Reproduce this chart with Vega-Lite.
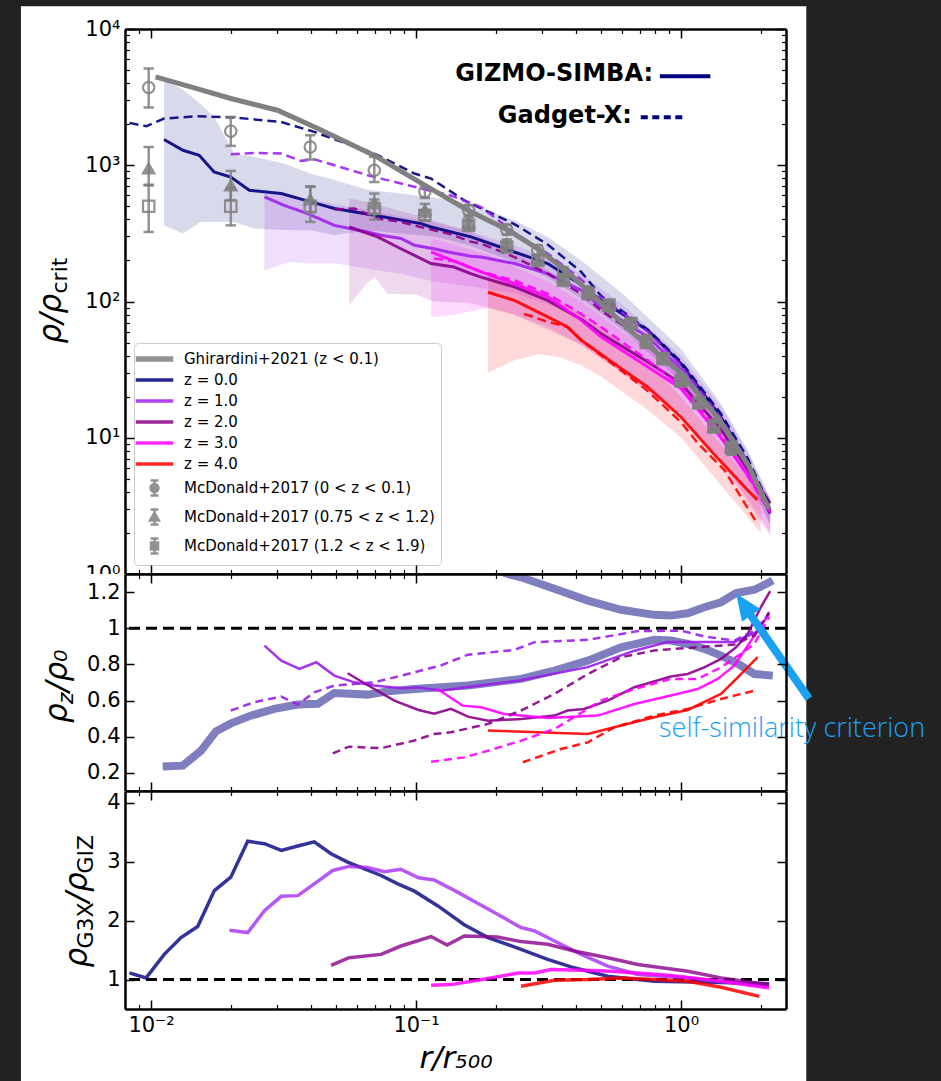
{
"$schema": "https://vega.github.io/schema/vega-lite/v6.json",
"background": "#222222",
"padding": {"left": 20, "top": 6, "right": 30, "bottom": 0},
"spacing": 0,
"bounds": "flush",
"config": {
  "font": "DejaVu Sans",
  "view": {"stroke": null},
  "axis": {"zindex": 1, "grid": false, "domainColor": "#000000", "domainWidth": 2.5, "tickColor": "#000000", "tickWidth": 1.5, "labelFontSize": 21, "labelColor": "#000000", "labelFont": "DejaVu Sans", "titleColor": "#000000", "titleFontWeight": "normal", "titleFont": "DejaVu Sans", "labelPadding": 14}
},
"resolve": {"scale": {"x": "independent", "y": "independent", "color": "independent", "shape": "independent", "fill": "independent"}, "axis": {"x": "independent", "y": "independent"}, "legend": {"color": "independent"}},
"datasets": {
  "g21": [
    {"s":"Ghirardini+2021 (z < 0.1)","x":0.0104,"y":4450},{"s":"Ghirardini+2021 (z < 0.1)","x":0.015,"y":3630},{"s":"Ghirardini+2021 (z < 0.1)","x":0.02,"y":3090},{"s":"Ghirardini+2021 (z < 0.1)","x":0.03,"y":2535},{"s":"Ghirardini+2021 (z < 0.1)","x":0.0426,"y":1858},{"s":"Ghirardini+2021 (z < 0.1)","x":0.0696,"y":1180},{"s":"Ghirardini+2021 (z < 0.1)","x":0.1106,"y":693},{"s":"Ghirardini+2021 (z < 0.1)","x":0.157,"y":468},{"s":"Ghirardini+2021 (z < 0.1)","x":0.222,"y":335},{"s":"Ghirardini+2021 (z < 0.1)","x":0.288,"y":244},{"s":"Ghirardini+2021 (z < 0.1)","x":0.373,"y":165},{"s":"Ghirardini+2021 (z < 0.1)","x":0.471,"y":108},{"s":"Ghirardini+2021 (z < 0.1)","x":0.65,"y":60},{"s":"Ghirardini+2021 (z < 0.1)","x":1.0,"y":30},{"s":"Ghirardini+2021 (z < 0.1)","x":1.4,"y":13.5},{"s":"Ghirardini+2021 (z < 0.1)","x":1.8,"y":6.2},{"s":"Ghirardini+2021 (z < 0.1)","x":2.15,"y":3.0}
  ],
  "top_solid": [
    {"s":"z = 0.0","x":0.0112,"y":1546},{"s":"z = 0.0","x":0.0132,"y":1288},{"s":"z = 0.0","x":0.0152,"y":1183},{"s":"z = 0.0","x":0.0173,"y":893},{"s":"z = 0.0","x":0.02,"y":820},{"s":"z = 0.0","x":0.0235,"y":655},{"s":"z = 0.0","x":0.031,"y":620},{"s":"z = 0.0","x":0.0401,"y":538},{"s":"z = 0.0","x":0.0492,"y":481},{"s":"z = 0.0","x":0.0696,"y":430},{"s":"z = 0.0","x":0.1045,"y":373},{"s":"z = 0.0","x":0.114,"y":352},{"s":"z = 0.0","x":0.161,"y":298},{"s":"z = 0.0","x":0.235,"y":231},{"s":"z = 0.0","x":0.314,"y":190},{"s":"z = 0.0","x":0.42,"y":133},{"s":"z = 0.0","x":0.499,"y":102},{"s":"z = 0.0","x":0.748,"y":61.5},{"s":"z = 0.0","x":1.0,"y":35},{"s":"z = 0.0","x":1.415,"y":14.2},{"s":"z = 0.0","x":1.79,"y":6.45},{"s":"z = 0.0","x":2.17,"y":2.77},
    {"s":"z = 1.0","x":0.0268,"y":585},{"s":"z = 1.0","x":0.0318,"y":508},{"s":"z = 1.0","x":0.039,"y":442},{"s":"z = 1.0","x":0.0492,"y":362},{"s":"z = 1.0","x":0.0657,"y":324},{"s":"z = 1.0","x":0.0738,"y":306},{"s":"z = 1.0","x":0.0877,"y":290},{"s":"z = 1.0","x":0.0986,"y":259},{"s":"z = 1.0","x":0.117,"y":244},{"s":"z = 1.0","x":0.132,"y":231},{"s":"z = 1.0","x":0.161,"y":215},{"s":"z = 1.0","x":0.176,"y":212},{"s":"z = 1.0","x":0.235,"y":190},{"s":"z = 1.0","x":0.314,"y":160},{"s":"z = 1.0","x":0.42,"y":121},{"s":"z = 1.0","x":0.499,"y":91},{"s":"z = 1.0","x":0.75,"y":55},{"s":"z = 1.0","x":1.0,"y":32},{"s":"z = 1.0","x":1.415,"y":13},{"s":"z = 1.0","x":1.79,"y":6.3},{"s":"z = 1.0","x":2.17,"y":2.9},
    {"s":"z = 2.0","x":0.056,"y":352},{"s":"z = 2.0","x":0.0716,"y":298},{"s":"z = 2.0","x":0.0877,"y":244},{"s":"z = 2.0","x":0.114,"y":190},{"s":"z = 2.0","x":0.139,"y":179},{"s":"z = 2.0","x":0.161,"y":160},{"s":"z = 2.0","x":0.176,"y":151},{"s":"z = 2.0","x":0.235,"y":128},{"s":"z = 2.0","x":0.314,"y":102},{"s":"z = 2.0","x":0.42,"y":74},{"s":"z = 2.0","x":0.5,"y":58},{"s":"z = 2.0","x":0.75,"y":36},{"s":"z = 2.0","x":1.0,"y":25},{"s":"z = 2.0","x":1.415,"y":11.5},{"s":"z = 2.0","x":1.79,"y":5.8},{"s":"z = 2.0","x":2.17,"y":3.3},
    {"s":"z = 3.0","x":0.114,"y":231},{"s":"z = 3.0","x":0.152,"y":185},{"s":"z = 3.0","x":0.192,"y":155},{"s":"z = 3.0","x":0.235,"y":135},{"s":"z = 3.0","x":0.314,"y":108},{"s":"z = 3.0","x":0.42,"y":73},{"s":"z = 3.0","x":0.499,"y":55},{"s":"z = 3.0","x":0.75,"y":33},{"s":"z = 3.0","x":1.0,"y":23},{"s":"z = 3.0","x":1.415,"y":10},{"s":"z = 3.0","x":1.79,"y":5.3},{"s":"z = 3.0","x":2.17,"y":3.0},
    {"s":"z = 4.0","x":0.187,"y":117},{"s":"z = 4.0","x":0.235,"y":102},{"s":"z = 4.0","x":0.314,"y":77},{"s":"z = 4.0","x":0.373,"y":65},{"s":"z = 4.0","x":0.42,"y":52},{"s":"z = 4.0","x":0.499,"y":41},{"s":"z = 4.0","x":0.56,"y":35},{"s":"z = 4.0","x":0.748,"y":23.6},{"s":"z = 4.0","x":1.0,"y":14.2},{"s":"z = 4.0","x":1.33,"y":7.6},{"s":"z = 4.0","x":1.79,"y":4.1},{"s":"z = 4.0","x":1.94,"y":3.5}
  ],
  "top_dash": [
    {"s":"z = 0.0","x":0.0083,"y":2046},{"s":"z = 0.0","x":0.0096,"y":1933},{"s":"z = 0.0","x":0.0112,"y":2203},{"s":"z = 0.0","x":0.015,"y":2291},{"s":"z = 0.0","x":0.0206,"y":2240},{"s":"z = 0.0","x":0.031,"y":2078},{"s":"z = 0.0","x":0.0413,"y":1758},{"s":"z = 0.0","x":0.0696,"y":1219},{"s":"z = 0.0","x":0.0986,"y":869},{"s":"z = 0.0","x":0.114,"y":798},{"s":"z = 0.0","x":0.152,"y":553},{"s":"z = 0.0","x":0.235,"y":370},{"s":"z = 0.0","x":0.314,"y":262},{"s":"z = 0.0","x":0.42,"y":165},{"s":"z = 0.0","x":0.499,"y":110},{"s":"z = 0.0","x":0.75,"y":62},{"s":"z = 0.0","x":1.0,"y":36},{"s":"z = 0.0","x":1.415,"y":15},{"s":"z = 0.0","x":1.79,"y":7},{"s":"z = 0.0","x":2.17,"y":3.1},
    {"s":"z = 1.0","x":0.02,"y":1205},{"s":"z = 1.0","x":0.0245,"y":1230},{"s":"z = 1.0","x":0.031,"y":1219},{"s":"z = 1.0","x":0.0368,"y":1077},{"s":"z = 1.0","x":0.0413,"y":1105},{"s":"z = 1.0","x":0.0492,"y":1000},{"s":"z = 1.0","x":0.0657,"y":845},{"s":"z = 1.0","x":0.0738,"y":798},{"s":"z = 1.0","x":0.0877,"y":735},{"s":"z = 1.0","x":0.117,"y":640},{"s":"z = 1.0","x":0.132,"y":610},{"s":"z = 1.0","x":0.176,"y":494},{"s":"z = 1.0","x":0.235,"y":320},{"s":"z = 1.0","x":0.314,"y":225},{"s":"z = 1.0","x":0.42,"y":145},{"s":"z = 1.0","x":0.485,"y":112},{"s":"z = 1.0","x":0.75,"y":60},{"s":"z = 1.0","x":1.0,"y":34},{"s":"z = 1.0","x":1.415,"y":14},{"s":"z = 1.0","x":1.79,"y":6.6},{"s":"z = 1.0","x":2.17,"y":3.0},
    {"s":"z = 2.0","x":0.0492,"y":473},{"s":"z = 2.0","x":0.0585,"y":481},{"s":"z = 2.0","x":0.0716,"y":406},{"s":"z = 2.0","x":0.0877,"y":384},{"s":"z = 2.0","x":0.0986,"y":362},{"s":"z = 2.0","x":0.117,"y":333},{"s":"z = 2.0","x":0.132,"y":316},{"s":"z = 2.0","x":0.161,"y":275},{"s":"z = 2.0","x":0.176,"y":266},{"s":"z = 2.0","x":0.235,"y":212},{"s":"z = 2.0","x":0.314,"y":160},{"s":"z = 2.0","x":0.42,"y":114},{"s":"z = 2.0","x":0.499,"y":86},{"s":"z = 2.0","x":0.75,"y":50},{"s":"z = 2.0","x":1.0,"y":30},{"s":"z = 2.0","x":1.415,"y":13},{"s":"z = 2.0","x":1.79,"y":6.2},{"s":"z = 2.0","x":2.17,"y":3.0},
    {"s":"z = 3.0","x":0.117,"y":207},{"s":"z = 3.0","x":0.143,"y":196},{"s":"z = 3.0","x":0.176,"y":165},{"s":"z = 3.0","x":0.235,"y":143},{"s":"z = 3.0","x":0.314,"y":114},{"s":"z = 3.0","x":0.42,"y":81},{"s":"z = 3.0","x":0.499,"y":65},{"s":"z = 3.0","x":0.75,"y":37},{"s":"z = 3.0","x":1.0,"y":24},{"s":"z = 3.0","x":1.415,"y":10.5},{"s":"z = 3.0","x":1.79,"y":5.2},{"s":"z = 3.0","x":2.17,"y":2.8},
    {"s":"z = 4.0","x":0.256,"y":81},{"s":"z = 4.0","x":0.314,"y":71},{"s":"z = 4.0","x":0.373,"y":65},{"s":"z = 4.0","x":0.42,"y":52},{"s":"z = 4.0","x":0.56,"y":34},{"s":"z = 4.0","x":0.75,"y":22},{"s":"z = 4.0","x":1.0,"y":13},{"s":"z = 4.0","x":1.16,"y":9.06},{"s":"z = 4.0","x":1.46,"y":5.77},{"s":"z = 4.0","x":1.94,"y":2.34}
  ],
  "top_band": [
    {"s":"z = 0.0","x":0.0112,"lo":362,"hi":4210},{"s":"z = 0.0","x":0.0132,"lo":316,"hi":3600},{"s":"z = 0.0","x":0.0154,"lo":384,"hi":2800},{"s":"z = 0.0","x":0.0173,"lo":384,"hi":2265},{"s":"z = 0.0","x":0.0206,"lo":384,"hi":1219},{"s":"z = 0.0","x":0.0245,"lo":343,"hi":1153},{"s":"z = 0.0","x":0.0318,"lo":335,"hi":1029},{"s":"z = 0.0","x":0.04,"lo":333,"hi":869},{"s":"z = 0.0","x":0.0492,"lo":306,"hi":780},{"s":"z = 0.0","x":0.0657,"lo":333,"hi":660},{"s":"z = 0.0","x":0.0877,"lo":316,"hi":620},{"s":"z = 0.0","x":0.117,"lo":300,"hi":580},{"s":"z = 0.0","x":0.157,"lo":260,"hi":530},{"s":"z = 0.0","x":0.235,"lo":195,"hi":394},{"s":"z = 0.0","x":0.314,"lo":150,"hi":298},{"s":"z = 0.0","x":0.42,"lo":105,"hi":200},{"s":"z = 0.0","x":0.6,"lo":62,"hi":115},{"s":"z = 0.0","x":1.0,"lo":26,"hi":45},{"s":"z = 0.0","x":1.41,"lo":11,"hi":18},{"s":"z = 0.0","x":1.79,"lo":5.3,"hi":8},{"s":"z = 0.0","x":2.17,"lo":2.3,"hi":3.6},
    {"s":"z = 1.0","x":0.0268,"lo":169,"hi":640},{"s":"z = 1.0","x":0.033,"lo":195,"hi":600},{"s":"z = 1.0","x":0.04,"lo":190,"hi":560},{"s":"z = 1.0","x":0.05,"lo":190,"hi":520},{"s":"z = 1.0","x":0.07,"lo":170,"hi":460},{"s":"z = 1.0","x":0.0877,"lo":160,"hi":420},{"s":"z = 1.0","x":0.117,"lo":140,"hi":380},{"s":"z = 1.0","x":0.157,"lo":130,"hi":330},{"s":"z = 1.0","x":0.235,"lo":115,"hi":260},{"s":"z = 1.0","x":0.314,"lo":95,"hi":210},{"s":"z = 1.0","x":0.42,"lo":75,"hi":160},{"s":"z = 1.0","x":0.6,"lo":48,"hi":95},{"s":"z = 1.0","x":1.0,"lo":22,"hi":40},{"s":"z = 1.0","x":1.41,"lo":10,"hi":17},{"s":"z = 1.0","x":1.79,"lo":4.8,"hi":7.8},{"s":"z = 1.0","x":2.17,"lo":2.3,"hi":3.5},
    {"s":"z = 2.0","x":0.056,"lo":94,"hi":570},{"s":"z = 2.0","x":0.065,"lo":135,"hi":540},{"s":"z = 2.0","x":0.07,"lo":151,"hi":520},{"s":"z = 2.0","x":0.078,"lo":114,"hi":490},{"s":"z = 2.0","x":0.1,"lo":112,"hi":430},{"s":"z = 2.0","x":0.117,"lo":100,"hi":390},{"s":"z = 2.0","x":0.157,"lo":98,"hi":330},{"s":"z = 2.0","x":0.235,"lo":80,"hi":230},{"s":"z = 2.0","x":0.314,"lo":62,"hi":170},{"s":"z = 2.0","x":0.42,"lo":48,"hi":115},{"s":"z = 2.0","x":0.6,"lo":30,"hi":70},{"s":"z = 2.0","x":1.0,"lo":15,"hi":32},{"s":"z = 2.0","x":1.41,"lo":7,"hi":13},{"s":"z = 2.0","x":1.79,"lo":3.5,"hi":6.5},{"s":"z = 2.0","x":2.17,"lo":2.0,"hi":3.6},
    {"s":"z = 3.0","x":0.114,"lo":77,"hi":290},{"s":"z = 3.0","x":0.14,"lo":80,"hi":260},{"s":"z = 3.0","x":0.187,"lo":90,"hi":220},{"s":"z = 3.0","x":0.235,"lo":80,"hi":180},{"s":"z = 3.0","x":0.314,"lo":65,"hi":140},{"s":"z = 3.0","x":0.42,"lo":48,"hi":100},{"s":"z = 3.0","x":0.6,"lo":30,"hi":60},{"s":"z = 3.0","x":1.0,"lo":14,"hi":30},{"s":"z = 3.0","x":1.41,"lo":6.5,"hi":12.5},{"s":"z = 3.0","x":1.79,"lo":3.3,"hi":6.5},{"s":"z = 3.0","x":2.17,"lo":1.9,"hi":3.4},
    {"s":"z = 4.0","x":0.187,"lo":30,"hi":165},{"s":"z = 4.0","x":0.235,"lo":37,"hi":140},{"s":"z = 4.0","x":0.29,"lo":41,"hi":120},{"s":"z = 4.0","x":0.35,"lo":39,"hi":100},{"s":"z = 4.0","x":0.42,"lo":34,"hi":80},{"s":"z = 4.0","x":0.5,"lo":28,"hi":65},{"s":"z = 4.0","x":0.75,"lo":16,"hi":35},{"s":"z = 4.0","x":1.0,"lo":10,"hi":20},{"s":"z = 4.0","x":1.41,"lo":4.5,"hi":9},{"s":"z = 4.0","x":1.79,"lo":2.6,"hi":5},{"s":"z = 4.0","x":2.0,"lo":2.0,"hi":4.0}
  ],
  "mcd": [
    {"g":"c","x":0.0098,"y":3717,"lo":2655,"hi":5130},{"g":"c","x":0.02,"y":1778,"lo":1387,"hi":2265},{"g":"c","x":0.0399,"y":1361,"lo":1101,"hi":1660},{"g":"c","x":0.0696,"y":918,"lo":753,"hi":1151},{"g":"c","x":0.108,"y":640,"lo":575,"hi":700},{"g":"c","x":0.158,"y":468,"lo":430,"hi":510},{"g":"c","x":0.22,"y":337,"lo":310,"hi":365},{"g":"c","x":0.288,"y":238,"lo":220,"hi":258},{"g":"c","x":0.36,"y":165,"lo":153,"hi":178},{"g":"c","x":0.446,"y":118,"lo":110,"hi":127},{"g":"c","x":0.535,"y":92,"lo":86,"hi":99},{"g":"c","x":0.647,"y":68,"lo":63,"hi":73},{"g":"c","x":0.74,"y":52,"lo":48,"hi":56},{"g":"c","x":0.855,"y":38,"lo":35,"hi":41},{"g":"c","x":1.0,"y":27,"lo":25,"hi":29},{"g":"c","x":1.17,"y":18,"lo":16.6,"hi":19.4},{"g":"c","x":1.33,"y":12.5,"lo":11.5,"hi":13.5},{"g":"c","x":1.55,"y":8.2,"lo":7.5,"hi":8.9},
    {"g":"t","x":0.0098,"y":946,"lo":711,"hi":1361},{"g":"t","x":0.02,"y":711,"lo":555,"hi":909},{"g":"t","x":0.0399,"y":560,"lo":450,"hi":700},{"g":"t","x":0.0696,"y":525,"lo":440,"hi":620},{"g":"t","x":0.108,"y":470,"lo":420,"hi":520},{"g":"t","x":0.158,"y":380,"lo":345,"hi":415},{"g":"t","x":0.22,"y":265,"lo":245,"hi":285},{"g":"t","x":0.288,"y":205,"lo":190,"hi":220},{"g":"t","x":0.36,"y":148,"lo":137,"hi":159},{"g":"t","x":0.446,"y":116,"lo":108,"hi":124},{"g":"t","x":0.535,"y":94,"lo":87,"hi":101},{"g":"t","x":0.647,"y":69,"lo":64,"hi":74},{"g":"t","x":0.74,"y":52,"lo":48,"hi":56},{"g":"t","x":0.855,"y":38,"lo":35,"hi":41},{"g":"t","x":1.0,"y":27,"lo":25,"hi":29},{"g":"t","x":1.17,"y":18,"lo":16.6,"hi":19.4},{"g":"t","x":1.33,"y":12,"lo":11,"hi":13},{"g":"t","x":1.55,"y":8.5,"lo":7.8,"hi":9.2},
    {"g":"s","x":0.0098,"y":500,"lo":324,"hi":720},{"g":"s","x":0.02,"y":500,"lo":362,"hi":680},{"g":"s","x":0.0399,"y":500,"lo":384,"hi":693},{"g":"s","x":0.0696,"y":481,"lo":400,"hi":560},{"g":"s","x":0.108,"y":430,"lo":395,"hi":465},{"g":"s","x":0.158,"y":362,"lo":335,"hi":390},{"g":"s","x":0.22,"y":251,"lo":232,"hi":270},{"g":"s","x":0.288,"y":200,"lo":185,"hi":215},{"g":"s","x":0.36,"y":143,"lo":133,"hi":153},{"g":"s","x":0.446,"y":114,"lo":106,"hi":122},{"g":"s","x":0.535,"y":94,"lo":87,"hi":101},{"g":"s","x":0.647,"y":69,"lo":64,"hi":74},{"g":"s","x":0.74,"y":50,"lo":46,"hi":54},{"g":"s","x":0.855,"y":38,"lo":35,"hi":41},{"g":"s","x":1.0,"y":26,"lo":24,"hi":28},{"g":"s","x":1.17,"y":18,"lo":16.6,"hi":19.4},{"g":"s","x":1.33,"y":12,"lo":11,"hi":13},{"g":"s","x":1.55,"y":8.5,"lo":7.8,"hi":9.2}
  ],
  "mid_thick": [
    {"k":"A","x":0.01107,"y":0.235},{"k":"A","x":0.01318,"y":0.24},{"k":"A","x":0.01545,"y":0.323},{"k":"A","x":0.01759,"y":0.43},{"k":"A","x":0.02004,"y":0.474},{"k":"A","x":0.02384,"y":0.517},{"k":"A","x":0.0292,"y":0.554},{"k":"A","x":0.0358,"y":0.578},{"k":"A","x":0.0426,"y":0.582},{"k":"A","x":0.0492,"y":0.642},{"k":"A","x":0.0657,"y":0.633},{"k":"A","x":0.0782,"y":0.651},{"k":"A","x":0.0986,"y":0.664},{"k":"A","x":0.157,"y":0.683},{"k":"A","x":0.249,"y":0.72},{"k":"A","x":0.333,"y":0.766},{"k":"A","x":0.445,"y":0.821},{"k":"A","x":0.594,"y":0.895},{"k":"A","x":0.793,"y":0.936},{"k":"A","x":0.916,"y":0.932},{"k":"A","x":1.06,"y":0.913},{"k":"A","x":1.224,"y":0.886},{"k":"A","x":1.415,"y":0.849},{"k":"A","x":1.64,"y":0.803},{"k":"A","x":1.893,"y":0.747},{"k":"A","x":2.22,"y":0.738},
    {"k":"B","x":0.17,"y":1.36},{"k":"B","x":0.222,"y":1.3},{"k":"B","x":0.249,"y":1.282},{"k":"B","x":0.333,"y":1.218},{"k":"B","x":0.445,"y":1.153},{"k":"B","x":0.594,"y":1.102},{"k":"B","x":0.793,"y":1.074},{"k":"B","x":0.916,"y":1.07},{"k":"B","x":1.06,"y":1.083},{"k":"B","x":1.224,"y":1.116},{"k":"B","x":1.415,"y":1.144},{"k":"B","x":1.614,"y":1.194},{"k":"B","x":1.893,"y":1.213},{"k":"B","x":2.22,"y":1.264}
  ],
  "mid_solid": [
    {"s":"z = 1.0","x":0.0268,"y":0.904},{"s":"z = 1.0","x":0.031,"y":0.821},{"s":"z = 1.0","x":0.0363,"y":0.775},{"s":"z = 1.0","x":0.042,"y":0.812},{"s":"z = 1.0","x":0.0492,"y":0.738},{"s":"z = 1.0","x":0.0585,"y":0.701},{"s":"z = 1.0","x":0.0696,"y":0.683},{"s":"z = 1.0","x":0.0877,"y":0.668},{"s":"z = 1.0","x":0.1023,"y":0.673},{"s":"z = 1.0","x":0.124,"y":0.655},{"s":"z = 1.0","x":0.157,"y":0.675},{"s":"z = 1.0","x":0.249,"y":0.712},{"s":"z = 1.0","x":0.445,"y":0.785},{"s":"z = 1.0","x":0.667,"y":0.876},{"s":"z = 1.0","x":0.89,"y":0.924},{"s":"z = 1.0","x":1.224,"y":0.924},{"s":"z = 1.0","x":1.59,"y":0.924},{"s":"z = 1.0","x":1.893,"y":0.974},{"s":"z = 1.0","x":2.05,"y":1.01},
    {"s":"z = 2.0","x":0.0552,"y":0.751},{"s":"z = 2.0","x":0.0696,"y":0.664},{"s":"z = 2.0","x":0.0828,"y":0.6},{"s":"z = 2.0","x":0.1023,"y":0.548},{"s":"z = 2.0","x":0.117,"y":0.528},{"s":"z = 2.0","x":0.1355,"y":0.554},{"s":"z = 2.0","x":0.157,"y":0.511},{"s":"z = 2.0","x":0.187,"y":0.489},{"s":"z = 2.0","x":0.249,"y":0.498},{"s":"z = 2.0","x":0.333,"y":0.517},{"s":"z = 2.0","x":0.373,"y":0.545},{"s":"z = 2.0","x":0.431,"y":0.554},{"s":"z = 2.0","x":0.529,"y":0.6},{"s":"z = 2.0","x":0.667,"y":0.674},{"s":"z = 2.0","x":0.916,"y":0.733},{"s":"z = 2.0","x":1.06,"y":0.747},{"s":"z = 2.0","x":1.224,"y":0.784},{"s":"z = 2.0","x":1.415,"y":0.83},{"s":"z = 2.0","x":1.614,"y":0.895},{"s":"z = 2.0","x":1.786,"y":0.969},{"s":"z = 2.0","x":2.0,"y":1.116},{"s":"z = 2.0","x":2.17,"y":1.205},
    {"s":"z = 3.0","x":0.12,"y":0.665},{"s":"z = 3.0","x":0.15,"y":0.572},{"s":"z = 3.0","x":0.176,"y":0.563},{"s":"z = 3.0","x":0.215,"y":0.526},{"s":"z = 3.0","x":0.314,"y":0.504},{"s":"z = 3.0","x":0.485,"y":0.517},{"s":"z = 3.0","x":0.667,"y":0.581},{"s":"z = 3.0","x":0.916,"y":0.628},{"s":"z = 3.0","x":1.156,"y":0.664},{"s":"z = 3.0","x":1.376,"y":0.72},{"s":"z = 3.0","x":1.59,"y":0.794},{"s":"z = 3.0","x":1.84,"y":0.932},{"s":"z = 3.0","x":2.15,"y":1.08},
    {"s":"z = 4.0","x":0.187,"y":0.434},{"s":"z = 4.0","x":0.288,"y":0.425},{"s":"z = 4.0","x":0.445,"y":0.415},{"s":"z = 4.0","x":0.594,"y":0.462},{"s":"z = 4.0","x":0.793,"y":0.508},{"s":"z = 4.0","x":1.06,"y":0.548},{"s":"z = 4.0","x":1.415,"y":0.637},{"s":"z = 4.0","x":1.64,"y":0.729},{"s":"z = 4.0","x":1.946,"y":0.84}
  ],
  "mid_dash": [
    {"s":"z = 1.0","x":0.02,"y":0.545},{"s":"z = 1.0","x":0.0245,"y":0.591},{"s":"z = 1.0","x":0.031,"y":0.622},{"s":"z = 1.0","x":0.0358,"y":0.578},{"s":"z = 1.0","x":0.0413,"y":0.646},{"s":"z = 1.0","x":0.0492,"y":0.683},{"s":"z = 1.0","x":0.0696,"y":0.701},{"s":"z = 1.0","x":0.093,"y":0.747},{"s":"z = 1.0","x":0.124,"y":0.794},{"s":"z = 1.0","x":0.157,"y":0.854},{"s":"z = 1.0","x":0.235,"y":0.88},{"s":"z = 1.0","x":0.28,"y":0.923},{"s":"z = 1.0","x":0.445,"y":0.936},{"s":"z = 1.0","x":0.687,"y":0.984},{"s":"z = 1.0","x":1.0,"y":0.987},{"s":"z = 1.0","x":1.224,"y":0.954},{"s":"z = 1.0","x":1.59,"y":0.932},{"s":"z = 1.0","x":1.893,"y":0.987},{"s":"z = 1.0","x":2.15,"y":1.08},
    {"s":"z = 2.0","x":0.0485,"y":0.308},{"s":"z = 2.0","x":0.0559,"y":0.345},{"s":"z = 2.0","x":0.0738,"y":0.337},{"s":"z = 2.0","x":0.0986,"y":0.379},{"s":"z = 2.0","x":0.117,"y":0.415},{"s":"z = 2.0","x":0.1355,"y":0.425},{"s":"z = 2.0","x":0.187,"y":0.471},{"s":"z = 2.0","x":0.249,"y":0.545},{"s":"z = 2.0","x":0.333,"y":0.637},{"s":"z = 2.0","x":0.445,"y":0.747},{"s":"z = 2.0","x":0.594,"y":0.84},{"s":"z = 2.0","x":0.793,"y":0.877},{"s":"z = 2.0","x":1.06,"y":0.891},{"s":"z = 2.0","x":1.59,"y":0.91},{"s":"z = 2.0","x":1.893,"y":0.96},{"s":"z = 2.0","x":2.15,"y":1.089},
    {"s":"z = 3.0","x":0.114,"y":0.262},{"s":"z = 3.0","x":0.152,"y":0.286},{"s":"z = 3.0","x":0.187,"y":0.323},{"s":"z = 3.0","x":0.249,"y":0.378},{"s":"z = 3.0","x":0.333,"y":0.443},{"s":"z = 3.0","x":0.385,"y":0.498},{"s":"z = 3.0","x":0.499,"y":0.6},{"s":"z = 3.0","x":0.667,"y":0.664},{"s":"z = 3.0","x":0.916,"y":0.72},{"s":"z = 3.0","x":1.156,"y":0.72},{"s":"z = 3.0","x":1.415,"y":0.784},{"s":"z = 3.0","x":1.68,"y":0.858},{"s":"z = 3.0","x":1.893,"y":0.914},{"s":"z = 3.0","x":2.15,"y":1.061},
    {"s":"z = 4.0","x":0.253,"y":0.259},{"s":"z = 4.0","x":0.352,"y":0.332},{"s":"z = 4.0","x":0.445,"y":0.369},{"s":"z = 4.0","x":0.56,"y":0.452},{"s":"z = 4.0","x":0.793,"y":0.517},{"s":"z = 4.0","x":1.06,"y":0.554},{"s":"z = 4.0","x":1.415,"y":0.609},{"s":"z = 4.0","x":1.946,"y":0.659}
  ],
  "bot": [
    {"s":"z = 0.0","x":0.00829,"y":1.113},{"s":"z = 0.0","x":0.00958,"y":1.028},{"s":"z = 0.0","x":0.01122,"y":1.427},{"s":"z = 0.0","x":0.01298,"y":1.712},{"s":"z = 0.0","x":0.015,"y":1.9},{"s":"z = 0.0","x":0.01734,"y":2.509},{"s":"z = 0.0","x":0.02,"y":2.737},{"s":"z = 0.0","x":0.02317,"y":3.347},{"s":"z = 0.0","x":0.0268,"y":3.306},{"s":"z = 0.0","x":0.031,"y":3.193},{"s":"z = 0.0","x":0.0358,"y":3.267},{"s":"z = 0.0","x":0.0413,"y":3.336},{"s":"z = 0.0","x":0.0478,"y":3.136},{"s":"z = 0.0","x":0.0552,"y":2.994},{"s":"z = 0.0","x":0.0738,"y":2.766},{"s":"z = 0.0","x":0.0854,"y":2.624},{"s":"z = 0.0","x":0.0986,"y":2.5},{"s":"z = 0.0","x":0.121,"y":2.25},{"s":"z = 0.0","x":0.152,"y":1.93},{"s":"z = 0.0","x":0.187,"y":1.712},{"s":"z = 0.0","x":0.249,"y":1.512},{"s":"z = 0.0","x":0.314,"y":1.341},{"s":"z = 0.0","x":0.395,"y":1.199},{"s":"z = 0.0","x":0.529,"y":1.056},{"s":"z = 0.0","x":0.793,"y":0.97},{"s":"z = 0.0","x":1.415,"y":0.95},{"s":"z = 0.0","x":2.15,"y":0.93},
    {"s":"z = 1.0","x":0.01977,"y":1.837},{"s":"z = 1.0","x":0.02317,"y":1.797},{"s":"z = 1.0","x":0.0268,"y":2.168},{"s":"z = 1.0","x":0.031,"y":2.412},{"s":"z = 1.0","x":0.0358,"y":2.424},{"s":"z = 1.0","x":0.0413,"y":2.624},{"s":"z = 1.0","x":0.0485,"y":2.851},{"s":"z = 1.0","x":0.0559,"y":2.92},{"s":"z = 1.0","x":0.0657,"y":2.9},{"s":"z = 1.0","x":0.0759,"y":2.83},{"s":"z = 1.0","x":0.0877,"y":2.87},{"s":"z = 1.0","x":0.1023,"y":2.726},{"s":"z = 1.0","x":0.117,"y":2.69},{"s":"z = 1.0","x":0.14,"y":2.509},{"s":"z = 1.0","x":0.187,"y":2.196},{"s":"z = 1.0","x":0.249,"y":1.883},{"s":"z = 1.0","x":0.28,"y":1.826},{"s":"z = 1.0","x":0.333,"y":1.655},{"s":"z = 1.0","x":0.42,"y":1.427},{"s":"z = 1.0","x":0.529,"y":1.227},{"s":"z = 1.0","x":0.687,"y":1.085},{"s":"z = 1.0","x":1.06,"y":1.028},{"s":"z = 1.0","x":2.15,"y":0.885},
    {"s":"z = 2.0","x":0.0478,"y":1.239},{"s":"z = 2.0","x":0.0559,"y":1.37},{"s":"z = 2.0","x":0.0738,"y":1.427},{"s":"z = 2.0","x":0.0877,"y":1.569},{"s":"z = 2.0","x":0.114,"y":1.73},{"s":"z = 2.0","x":0.131,"y":1.586},{"s":"z = 2.0","x":0.152,"y":1.74},{"s":"z = 2.0","x":0.203,"y":1.723},{"s":"z = 2.0","x":0.249,"y":1.644},{"s":"z = 2.0","x":0.314,"y":1.6},{"s":"z = 2.0","x":0.395,"y":1.484},{"s":"z = 2.0","x":0.529,"y":1.37},{"s":"z = 2.0","x":0.687,"y":1.256},{"s":"z = 2.0","x":1.06,"y":1.142},{"s":"z = 2.0","x":1.415,"y":1.028},{"s":"z = 2.0","x":2.15,"y":0.914},
    {"s":"z = 3.0","x":0.114,"y":0.903},{"s":"z = 3.0","x":0.1355,"y":0.914},{"s":"z = 3.0","x":0.162,"y":0.97},{"s":"z = 3.0","x":0.187,"y":1.016},{"s":"z = 3.0","x":0.242,"y":1.11},{"s":"z = 3.0","x":0.28,"y":1.11},{"s":"z = 3.0","x":0.323,"y":1.17},{"s":"z = 3.0","x":0.499,"y":1.15},{"s":"z = 3.0","x":0.687,"y":1.11},{"s":"z = 3.0","x":0.916,"y":1.07},{"s":"z = 3.0","x":1.415,"y":0.97},{"s":"z = 3.0","x":2.15,"y":0.857},
    {"s":"z = 4.0","x":0.249,"y":0.885},{"s":"z = 4.0","x":0.333,"y":0.988},{"s":"z = 4.0","x":0.445,"y":1.0},{"s":"z = 4.0","x":0.594,"y":1.028},{"s":"z = 4.0","x":0.793,"y":1.0},{"s":"z = 4.0","x":1.06,"y":0.97},{"s":"z = 4.0","x":1.415,"y":0.868},{"s":"z = 4.0","x":1.976,"y":0.715}
  ]
},
"vconcat": [
{
  "width": 661, "height": 545,
  "resolve": {"axis": {"x": "independent", "y": "independent"}},
  "layer": [
    {
      "data": {"values": [{}]},
      "mark": {"type": "rect", "color": "white", "clip": false},
      "encoding": {
        "x": {"datum": 0.00323, "type": "quantitative", "scale": {"type": "log", "domain": [0.007977, 2.49], "nice": false},
              "axis": {"zindex": 1, "orient": "bottom", "values": [0.01, 0.1, 1], "tickSize": -9, "labels": false, "title": null}},
        "x2": {"datum": 2.97},
        "y": {"datum": 1, "type": "quantitative", "scale": {"type": "log", "domain": [1, 10000], "nice": false},
              "axis": {"zindex": 1, "orient": "left", "values": [1, 10, 100, 1000, 10000], "tickSize": -9,
                       "labelExpr": "datum.value >= 9999 ? '10⁴' : datum.value >= 999 ? '10³' : datum.value >= 99 ? '10²' : datum.value >= 9 ? '10¹' : '10⁰'",
                       "title": "ρ/ρ", "titleX": -65, "titleY": 314, "titleAngle": 270, "titleAlign": "left", "titleBaseline": "alphabetic", "titleFontSize": 31, "titleFontStyle": "italic"}},
        "y2": {"datum": 14700}
      }
    },
    {
      "data": {"name": "top_band"},
      "mark": {"type": "area", "fillOpacity": 0.15},
      "encoding": {
        "x": {"field": "x", "type": "quantitative", "scale": {"type": "log", "domain": [0.007977, 2.49], "nice": false},
              "axis": {"zindex": 1, "orient": "bottom", "values": [0.008,0.009,0.02,0.03,0.04,0.05,0.06,0.07,0.08,0.09,0.2,0.3,0.4,0.5,0.6,0.7,0.8,0.9,2], "tickSize": -4.5, "tickWidth": 1.2, "labels": false, "domain": false, "title": null}},
        "y": {"field": "lo", "type": "quantitative", "scale": {"type": "log", "domain": [1, 10000], "nice": false},
              "axis": {"zindex": 1, "orient": "left", "values": [2,3,4,5,6,7,8,9,20,30,40,50,60,70,80,90,200,300,400,500,600,700,800,900,2000,3000,4000,5000,6000,7000,8000,9000], "tickSize": -4.5, "tickWidth": 1.2, "labels": false, "domain": false,
                       "title": "crit", "titleX": -59, "titleY": 264, "titleAngle": 270, "titleAlign": "left", "titleBaseline": "alphabetic", "titleFontSize": 22}},
        "y2": {"field": "hi"},
        "color": {"field": "s", "type": "nominal",
          "scale": {"domain": ["Ghirardini+2021 (z < 0.1)", "z = 0.0", "z = 1.0", "z = 2.0", "z = 3.0", "z = 4.0", "McDonald+2017 (0 < z < 0.1)", "McDonald+2017 (0.75 < z < 1.2)", "McDonald+2017 (1.2 < z < 1.9)"],
                    "range": ["#808080", "#000080", "#a020f0", "#8b008b", "#ff00ff", "#ff0000", "#808080", "#808080", "#808080"]},
          "legend": {"orient": "bottom-left", "offset": 9, "title": null, "padding": 6, "rowPadding": 3, "labelFontSize": 15, "labelColor": "#000000", "labelOffset": 19.5, "symbolOffset": 4.5, "labelLimit": 400,
                     "symbolSize": 306, "symbolStrokeWidth": 2.5, "fillColor": "rgba(255,255,255,0.8)", "strokeColor": "#cccccc", "cornerRadius": 4,
                     "encode": {"symbols": {"update": {
                        "shape": {"signal": "datum.value === 'McDonald+2017 (0 < z < 0.1)' ? 'M-0.45,0A0.45,0.45 0 1,0 0.45,0A0.45,0.45 0 1,0 -0.45,0M0,-0.85V0.85M-0.45,-0.85H0.45M-0.45,0.85H0.45' : datum.value === 'McDonald+2017 (0.75 < z < 1.2)' ? 'M0,-0.5L0.5,0.4L-0.5,0.4ZM0,-0.85V0.85M-0.45,-0.85H0.45M-0.45,0.85H0.45' : datum.value === 'McDonald+2017 (1.2 < z < 1.9)' ? 'M-0.4,-0.4H0.4V0.4H-0.4ZM0,-0.85V0.85M-0.45,-0.85H0.45M-0.45,0.85H0.45' : indexof(datum.value, 'Ghirardini') >= 0 ? 'M-2,-0.171H2V0.171H-2Z' : 'M-2,-0.057H2V0.057H-2Z'"},
                        "stroke": {"signal": "indexof(datum.value, 'McDonald') >= 0 || indexof(datum.value, 'Ghirardini') >= 0 ? '#808080' : datum.value === 'z = 0.0' ? '#000080' : datum.value === 'z = 1.0' ? '#a020f0' : datum.value === 'z = 2.0' ? '#8b008b' : datum.value === 'z = 3.0' ? '#ff00ff' : '#ff0000'"},
                        "fill": {"signal": "datum.value === 'McDonald+2017 (0.75 < z < 1.2)' || indexof(datum.value, 'Ghirardini') >= 0 ? '#808080' : indexof(datum.value, 'McDonald') >= 0 ? 'transparent' : datum.value === 'z = 0.0' ? '#000080' : datum.value === 'z = 1.0' ? '#a020f0' : datum.value === 'z = 2.0' ? '#8b008b' : datum.value === 'z = 3.0' ? '#ff00ff' : '#ff0000'"},
                        "strokeWidth": {"value": 2.5},
                        "opacity": {"value": 0.85},
                        "fillOpacity": {"value": 1},
                        "strokeOpacity": {"value": 1},
                        "size": {"value": 306}
                     }}}}
        }
      }
    },
    {
      "data": {"name": "top_solid"},
      "mark": {"type": "line", "strokeWidth": 3, "opacity": 0.9},
      "encoding": {
        "x": {"field": "x", "type": "quantitative", "scale": {"type": "log", "domain": [0.007977, 2.49], "nice": false},
              "axis": {"zindex": 1, "orient": "top", "values": [0.008,0.009,0.02,0.03,0.04,0.05,0.06,0.07,0.08,0.09,0.2,0.3,0.4,0.5,0.6,0.7,0.8,0.9,2], "tickSize": -4.5, "tickWidth": 1.2, "labels": false, "domain": false, "title": null}},
        "y": {"field": "y", "type": "quantitative", "scale": {"type": "log", "domain": [1, 10000], "nice": false},
              "axis": {"zindex": 1, "orient": "right", "values": [2,3,4,5,6,7,8,9,20,30,40,50,60,70,80,90,200,300,400,500,600,700,800,900,2000,3000,4000,5000,6000,7000,8000,9000], "tickSize": -4.5, "tickWidth": 1.2, "labels": false, "domain": false, "title": null}},
        "color": {"field": "s", "type": "nominal"}
      }
    },
    {
      "data": {"name": "top_dash"},
      "mark": {"type": "line", "strokeWidth": 2.5, "opacity": 0.9, "strokeDash": [9, 5]},
      "encoding": {
        "x": {"field": "x", "type": "quantitative", "axis": null},
        "y": {"field": "y", "type": "quantitative", "axis": null},
        "color": {"field": "s", "type": "nominal"}
      }
    },
    {
      "data": {"name": "g21"},
      "mark": {"type": "line", "strokeWidth": 5},
      "encoding": {
        "x": {"field": "x", "type": "quantitative", "scale": {"type": "log", "domain": [0.007977, 2.49], "nice": false},
              "axis": {"zindex": 1, "orient": "top", "values": [0.01, 0.1, 1], "tickSize": -9, "labels": false, "title": null}},
        "y": {"field": "y", "type": "quantitative", "scale": {"type": "log", "domain": [1, 10000], "nice": false},
              "axis": {"zindex": 1, "orient": "right", "values": [1, 10, 100, 1000, 10000], "tickSize": -9, "labels": false, "title": null}},
        "color": {"field": "s", "type": "nominal"}
      }
    },
    {
      "data": {"name": "mcd"},
      "mark": {"type": "rule", "color": "#808080", "strokeWidth": 2.5, "opacity": 0.85},
      "encoding": {
        "x": {"field": "x", "type": "quantitative", "axis": null},
        "y": {"field": "lo", "type": "quantitative", "axis": null},
        "y2": {"field": "hi"}
      }
    },
    {
      "data": {"name": "mcd"},
      "mark": {"type": "point", "shape": "stroke", "size": 110, "color": "#808080", "strokeWidth": 2.5, "opacity": 0.85},
      "encoding": {
        "x": {"field": "x", "type": "quantitative", "axis": null},
        "y": {"field": "lo", "type": "quantitative", "axis": null}
      }
    },
    {
      "data": {"name": "mcd"},
      "mark": {"type": "point", "shape": "stroke", "size": 110, "color": "#808080", "strokeWidth": 2.5, "opacity": 0.85},
      "encoding": {
        "x": {"field": "x", "type": "quantitative", "axis": null},
        "y": {"field": "hi", "type": "quantitative", "axis": null}
      }
    },
    {
      "data": {"name": "mcd"},
      "mark": {"type": "point", "size": 130, "stroke": "#808080", "strokeWidth": 2.2, "opacity": 0.85, "filled": true},
      "encoding": {
        "x": {"field": "x", "type": "quantitative", "axis": null},
        "y": {"field": "y", "type": "quantitative", "axis": null},
        "shape": {"field": "g", "type": "nominal", "scale": {"domain": ["c", "t", "s"], "range": ["circle", "triangle-up", "square"]}, "legend": null},
        "fill": {"field": "g", "type": "nominal", "scale": {"domain": ["c", "t", "s"], "range": ["transparent", "#808080", "transparent"]}, "legend": null}
      }
    },
    {
      "data": {"values": [{}]},
      "mark": {"type": "text", "text": "GIZMO-SIMBA:", "align": "right", "baseline": "middle", "fontSize": 24, "fontWeight": "bold", "font": "DejaVu Sans", "color": "#000000"},
      "encoding": {"x": {"datum": 0.784, "type": "quantitative", "axis": null}, "y": {"datum": 4700, "type": "quantitative", "axis": null}}
    },
    {
      "data": {"values": [{}]},
      "mark": {"type": "rule", "color": "#000080", "strokeWidth": 4},
      "encoding": {"x": {"datum": 0.832, "type": "quantitative", "axis": null}, "x2": {"datum": 1.29}, "y": {"datum": 4500, "type": "quantitative", "axis": null}}
    },
    {
      "data": {"values": [{}]},
      "mark": {"type": "text", "text": "Gadget-X:", "align": "right", "baseline": "middle", "fontSize": 24, "fontWeight": "bold", "font": "DejaVu Sans", "color": "#000000"},
      "encoding": {"x": {"datum": 0.653, "type": "quantitative", "axis": null}, "y": {"datum": 2300, "type": "quantitative", "axis": null}}
    },
    {
      "data": {"values": [{}]},
      "mark": {"type": "rule", "color": "#000080", "strokeWidth": 4, "strokeDash": [7, 4.5]},
      "encoding": {"x": {"datum": 0.705, "type": "quantitative", "axis": null}, "x2": {"datum": 1.044}, "y": {"datum": 2250, "type": "quantitative", "axis": null}}
    }
  ]
},
{
  "width": 661, "height": 217,
  "resolve": {"axis": {"x": "independent", "y": "independent"}},
  "layer": [
    {
      "data": {"values": [{}]},
      "mark": {"type": "rect", "color": "white", "clip": false},
      "encoding": {
        "x": {"datum": 0.00323, "type": "quantitative", "scale": {"type": "log", "domain": [0.007977, 2.49], "nice": false},
              "axis": {"zindex": 1, "orient": "bottom", "values": [0.01, 0.1, 1], "tickSize": -9, "labels": false, "title": null}},
        "x2": {"datum": 2.97},
        "y": {"datum": 0.1, "type": "quantitative", "scale": {"domain": [0.1, 1.3], "nice": false, "zero": false},
              "axis": {"zindex": 1, "orient": "left", "values": [0.2, 0.4, 0.6, 0.8, 1, 1.2], "format": "~g", "tickSize": -9,
                       "title": "ρ", "titleX": -59, "titleY": 148.5, "titleAngle": 270, "titleAlign": "left", "titleBaseline": "alphabetic", "titleFontSize": 31, "titleFontStyle": "italic"}},
        "y2": {"datum": 1.3}
      }
    },
    {
      "data": {"name": "mid_thick"},
      "mark": {"type": "line", "color": "#7f7fbf", "strokeWidth": 8, "clip": true},
      "encoding": {
        "x": {"field": "x", "type": "quantitative", "scale": {"type": "log", "domain": [0.007977, 2.49], "nice": false},
              "axis": {"zindex": 1, "orient": "bottom", "values": [0.008,0.009,0.02,0.03,0.04,0.05,0.06,0.07,0.08,0.09,0.2,0.3,0.4,0.5,0.6,0.7,0.8,0.9,2], "tickSize": -4.5, "tickWidth": 1.2, "labels": false, "domain": false, "title": null}},
        "y": {"field": "y", "type": "quantitative", "scale": {"domain": [0.1, 1.3], "nice": false, "zero": false},
              "axis": {"zindex": 1, "orient": "left", "ticks": false, "labels": false, "domain": false,
                       "title": "z", "titleX": -53, "titleY": 129.5, "titleAngle": 270, "titleAlign": "left", "titleBaseline": "alphabetic", "titleFontSize": 22, "titleFontStyle": "italic"}},
        "detail": {"field": "k", "type": "nominal"}
      }
    },
    {
      "data": {"values": [{}]},
      "mark": {"type": "rule", "color": "#000000", "strokeWidth": 3, "strokeDash": [11, 6]},
      "encoding": {"y": {"datum": 1, "type": "quantitative", "axis": null}}
    },
    {
      "data": {"name": "mid_solid"},
      "mark": {"type": "line", "strokeWidth": 2.5, "opacity": 0.9},
      "encoding": {
        "x": {"field": "x", "type": "quantitative", "scale": {"type": "log", "domain": [0.007977, 2.49], "nice": false},
              "axis": {"zindex": 1, "orient": "top", "values": [0.01, 0.1, 1], "tickSize": -9, "labels": false, "title": null}},
        "y": {"field": "y", "type": "quantitative", "scale": {"domain": [0.1, 1.3], "nice": false, "zero": false},
              "axis": {"zindex": 1, "orient": "left", "ticks": false, "labels": false, "domain": false,
                       "title": "/ρ₀", "titleX": -59, "titleY": 117.5, "titleAngle": 270, "titleAlign": "left", "titleBaseline": "alphabetic", "titleFontSize": 31, "titleFontStyle": "italic"}},
        "color": {"field": "s", "type": "nominal", "scale": {"domain": ["z = 1.0", "z = 2.0", "z = 3.0", "z = 4.0"], "range": ["#9a1ee8", "#8b008b", "#ff00ff", "#ff0000"]}, "legend": null}
      }
    },
    {
      "data": {"name": "mid_dash"},
      "mark": {"type": "line", "strokeWidth": 2.5, "opacity": 0.9, "strokeDash": [8, 5]},
      "encoding": {
        "x": {"field": "x", "type": "quantitative", "scale": {"type": "log", "domain": [0.007977, 2.49], "nice": false},
              "axis": {"zindex": 1, "orient": "top", "values": [0.008,0.009,0.02,0.03,0.04,0.05,0.06,0.07,0.08,0.09,0.2,0.3,0.4,0.5,0.6,0.7,0.8,0.9,2], "tickSize": -4.5, "tickWidth": 1.2, "labels": false, "domain": false, "title": null}},
        "y": {"field": "y", "type": "quantitative", "scale": {"domain": [0.1, 1.3], "nice": false, "zero": false},
              "axis": {"zindex": 1, "orient": "right", "values": [0.2, 0.4, 0.6, 0.8, 1, 1.2], "tickSize": -9, "labels": false, "title": null}},
        "color": {"field": "s", "type": "nominal", "legend": null}
      }
    },
    {
      "data": {"values": [{}]},
      "mark": {"type": "rule", "color": "#1ba1f2", "strokeWidth": 8},
      "encoding": {"x": {"datum": 3.04, "type": "quantitative", "axis": null}, "x2": {"datum": 1.759}, "y": {"datum": 0.611, "type": "quantitative", "axis": null}, "y2": {"datum": 1.109}}
    },
    {
      "data": {"values": [{}]},
      "mark": {"type": "point", "shape": "M0,-1L0.8,0.9L-0.8,0.9Z", "size": 784, "angle": 325.2, "filled": true, "color": "#1ba1f2", "opacity": 1},
      "encoding": {"x": {"datum": 1.729, "type": "quantitative", "axis": null}, "y": {"datum": 1.128, "type": "quantitative", "axis": null}}
    },
    {
      "data": {"values": [{}]},
      "mark": {"type": "text", "text": "self-similarity criterion", "align": "left", "baseline": "alphabetic", "fontSize": 27, "font": "Open Sans", "fontWeight": 300, "color": "#1ba1f2"},
      "encoding": {"x": {"datum": 0.826, "type": "quantitative", "axis": null}, "y": {"datum": 0.397, "type": "quantitative", "axis": null}}
    }
  ]
},
{
  "width": 661, "height": 218,
  "resolve": {"axis": {"x": "independent", "y": "independent"}},
  "layer": [
    {
      "data": {"values": [{}]},
      "mark": {"type": "rect", "color": "white", "clip": false},
      "encoding": {
        "x": {"datum": 0.00323, "type": "quantitative", "scale": {"type": "log", "domain": [0.007977, 2.49], "nice": false},
              "axis": {"zindex": 1, "orient": "bottom", "values": [0.01, 0.1, 1], "tickSize": -9,
                       "labelExpr": "datum.value < 0.05 ? '10⁻²' : datum.value < 0.5 ? '10⁻¹' : '10⁰'",
                       "title": "r/r₅₀₀", "titleFontSize": 31, "titleFontStyle": "italic", "titlePadding": 8}},
        "x2": {"datum": 2.97},
        "y": {"datum": -1.0, "type": "quantitative", "scale": {"domain": [0.5, 4.2], "nice": false, "zero": false},
              "axis": {"zindex": 1, "orient": "left", "values": [1, 2, 3, 4], "tickSize": -9,
                       "title": "ρ", "titleX": -39, "titleY": 176, "titleAngle": 270, "titleAlign": "left", "titleBaseline": "alphabetic", "titleFontSize": 31, "titleFontStyle": "italic"}},
        "y2": {"datum": 4.2}
      }
    },
    {
      "data": {"values": [{}]},
      "mark": {"type": "rule", "color": "#000000", "strokeWidth": 3, "strokeDash": [11, 6]},
      "encoding": {"y": {"datum": 1, "type": "quantitative", "axis": null}}
    },
    {
      "data": {"name": "bot"},
      "transform": [{"filter": "datum.s === 'z = 0.0'"}],
      "mark": {"type": "line", "color": "#000080", "strokeWidth": 3.5, "opacity": 0.8},
      "encoding": {
        "x": {"field": "x", "type": "quantitative", "scale": {"type": "log", "domain": [0.007977, 2.49], "nice": false},
              "axis": {"zindex": 1, "orient": "bottom", "values": [0.008,0.009,0.02,0.03,0.04,0.05,0.06,0.07,0.08,0.09,0.2,0.3,0.4,0.5,0.6,0.7,0.8,0.9,2], "tickSize": -4.5, "tickWidth": 1.2, "labels": false, "domain": false, "title": null}},
        "y": {"field": "y", "type": "quantitative", "scale": {"domain": [0.5, 4.2], "nice": false, "zero": false},
              "axis": {"zindex": 1, "orient": "left", "ticks": false, "labels": false, "domain": false,
                       "title": "G3X", "titleX": -33, "titleY": 157, "titleAngle": 270, "titleAlign": "left", "titleBaseline": "alphabetic", "titleFontSize": 22}}
      }
    },
    {
      "data": {"name": "bot"},
      "transform": [{"filter": "datum.s === 'z = 1.0'"}],
      "mark": {"type": "line", "color": "#a020f0", "strokeWidth": 3.5, "opacity": 0.75},
      "encoding": {
        "x": {"field": "x", "type": "quantitative", "scale": {"type": "log", "domain": [0.007977, 2.49], "nice": false},
              "axis": {"zindex": 1, "orient": "top", "values": [0.01, 0.1, 1], "tickSize": -9, "labels": false, "title": null}},
        "y": {"field": "y", "type": "quantitative", "scale": {"domain": [0.5, 4.2], "nice": false, "zero": false},
              "axis": {"zindex": 1, "orient": "left", "ticks": false, "labels": false, "domain": false,
                       "title": "/ρ", "titleX": -39, "titleY": 111, "titleAngle": 270, "titleAlign": "left", "titleBaseline": "alphabetic", "titleFontSize": 31, "titleFontStyle": "italic"}}
      }
    },
    {
      "data": {"name": "bot"},
      "transform": [{"filter": "datum.s === 'z = 2.0'"}],
      "mark": {"type": "line", "color": "#8b008b", "strokeWidth": 3.5, "opacity": 0.8},
      "encoding": {
        "x": {"field": "x", "type": "quantitative", "scale": {"type": "log", "domain": [0.007977, 2.49], "nice": false},
              "axis": {"zindex": 1, "orient": "top", "values": [0.008,0.009,0.02,0.03,0.04,0.05,0.06,0.07,0.08,0.09,0.2,0.3,0.4,0.5,0.6,0.7,0.8,0.9,2], "tickSize": -4.5, "tickWidth": 1.2, "labels": false, "domain": false, "title": null}},
        "y": {"field": "y", "type": "quantitative", "scale": {"domain": [0.5, 4.2], "nice": false, "zero": false},
              "axis": {"zindex": 1, "orient": "left", "ticks": false, "labels": false, "domain": false,
                       "title": "GIZ", "titleX": -33, "titleY": 82, "titleAngle": 270, "titleAlign": "left", "titleBaseline": "alphabetic", "titleFontSize": 22}}
      }
    },
    {
      "data": {"name": "bot"},
      "transform": [{"filter": "datum.s === 'z = 3.0'"}],
      "mark": {"type": "line", "color": "#ff00ff", "strokeWidth": 3.5, "opacity": 0.85},
      "encoding": {
        "x": {"field": "x", "type": "quantitative", "axis": null},
        "y": {"field": "y", "type": "quantitative", "scale": {"domain": [0.5, 4.2], "nice": false, "zero": false},
              "axis": {"zindex": 1, "orient": "right", "values": [1, 2, 3, 4], "tickSize": -9, "labels": false, "title": null}}
      }
    },
    {
      "data": {"name": "bot"},
      "transform": [{"filter": "datum.s === 'z = 4.0'"}],
      "mark": {"type": "line", "color": "#ff0000", "strokeWidth": 3.5, "opacity": 0.85},
      "encoding": {
        "x": {"field": "x", "type": "quantitative", "axis": null},
        "y": {"field": "y", "type": "quantitative", "axis": null}
      }
    }
  ]
}
]
}
